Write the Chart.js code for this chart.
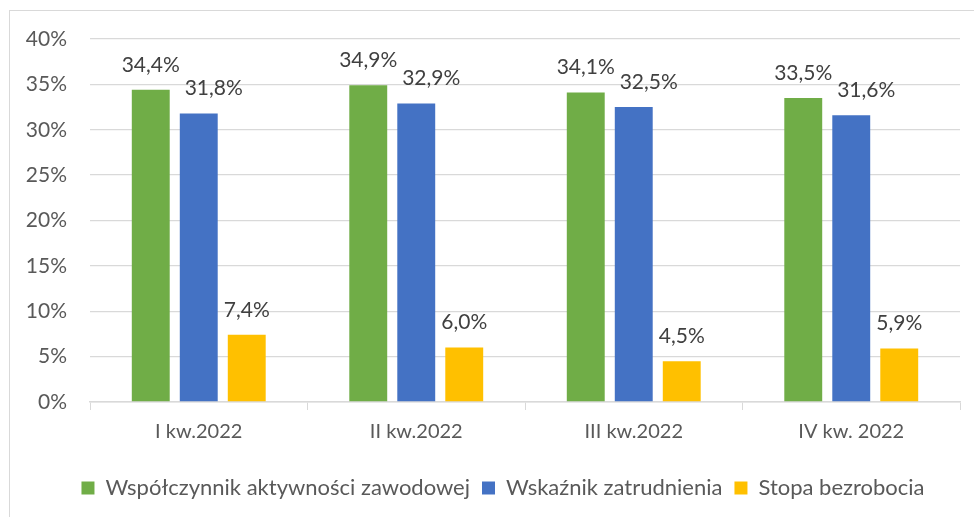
<!DOCTYPE html>
<html>
<head>
<meta charset="utf-8">
<script src="https://cdn.jsdelivr.net/npm/chart.js@4"></script>
<style>
  html, body { margin: 0; padding: 0; background: #fff; }
  #wrap { position: relative; width: 974px; height: 517px; }
</style>
</head>
<body>
<div id="wrap"><canvas id="chart"></canvas></div>
<script>
/* ── Data ── */
const quarters     = ['I kw.2022', 'II kw.2022', 'III kw.2022', 'IV kw. 2022'];
const aktywnosc    = [34.4, 34.9, 34.1, 33.5];
const zatrudnienie = [31.8, 32.9, 32.5, 31.6];
const bezrobocie   = [7.4, 6.0, 4.5, 5.9];
const yTicks       = [0, 5, 10, 15, 20, 25, 30, 35, 40];

const FONT = 'Lato';
const fmt  = v => v.toFixed(1).replace('.', ',') + '%';

/* ── Frame around the chart + legend nudge ── */
const framePlugin = {
  id: 'frame',
  afterLayout(chart) {
    // legend in the reference is centred under the plot, not the canvas
    if (chart.legend) chart.legend.left += 46;
  },
  beforeDraw(chart) {
    const c = chart.ctx;
    c.save();
    c.strokeStyle = '#d9d9d9';
    c.lineWidth = 1;
    c.strokeRect(9.5, 10.5, 1000, 1000);
    c.restore();
  }
};

/* ── Value labels above bars ── */
const labelShift = [0, 15, 0];
const valueLabels = {
  id: 'valueLabels',
  afterDatasetsDraw(chart) {
    const c = chart.ctx;
    c.save();
    c.font = `21px ${FONT}`;
    c.fillStyle = '#404040';
    c.textAlign = 'center';
    c.textBaseline = 'middle';
    chart.data.datasets.forEach((ds, di) => {
      chart.getDatasetMeta(di).data.forEach((bar, i) => {
        c.fillText(fmt(ds.data[i]), bar.x + labelShift[di], bar.y - 25);
      });
    });
    c.restore();
  }
};

new Chart(document.getElementById('chart'), {
  type: 'bar',
  data: {
    labels: quarters,
    datasets: [
      { label: 'Współczynnik aktywności zawodowej', data: aktywnosc,    backgroundColor: '#70AD47' },
      { label: 'Wskaźnik zatrudnienia',             data: zatrudnienie, backgroundColor: '#4472C4' },
      { label: 'Stopa bezrobocia',                  data: bezrobocie,   backgroundColor: '#FFC000' }
    ]
  },
  options: {
    responsive: true, maintainAspectRatio: false,
    animation: false,
    categoryPercentage: 0.662,
    barPercentage: 0.79,
    layout: { padding: { top: 39, right: 14, left: 0, bottom: 8 } },
    plugins: {
      legend: {
        position: 'bottom',
        labels: {
          color: '#595959', font: { family: FONT, size: 22 },
          boxWidth: 13, boxHeight: 13, padding: 12
        }
      },
      tooltip: { enabled: false }
    },
    scales: {
      x: {
        grid: { display: true, drawOnChartArea: false, drawTicks: true, tickLength: 8, color: '#d9d9d9', offset: true },
        border: { display: true, color: '#d9d9d9', width: 1.5 },
        ticks: { color: '#595959', font: { family: FONT, size: 20 }, padding: 10 },
        afterFit(scale) { scale.height = 63; }
      },
      y: {
        min: 0, max: 40,
        afterBuildTicks(scale) { scale.ticks = yTicks.map(v => ({ value: v })); },
        grid: { color: '#d9d9d9', drawTicks: false, lineWidth: 1.3 },
        border: { display: false },
        ticks: { color: '#595959', font: { family: FONT, size: 21 }, padding: 23, callback: v => v + '%' },
        afterFit(scale) { scale.width = 90; }
      }
    }
  },
  plugins: [framePlugin, valueLabels]
});
</script>
</body>
</html>
